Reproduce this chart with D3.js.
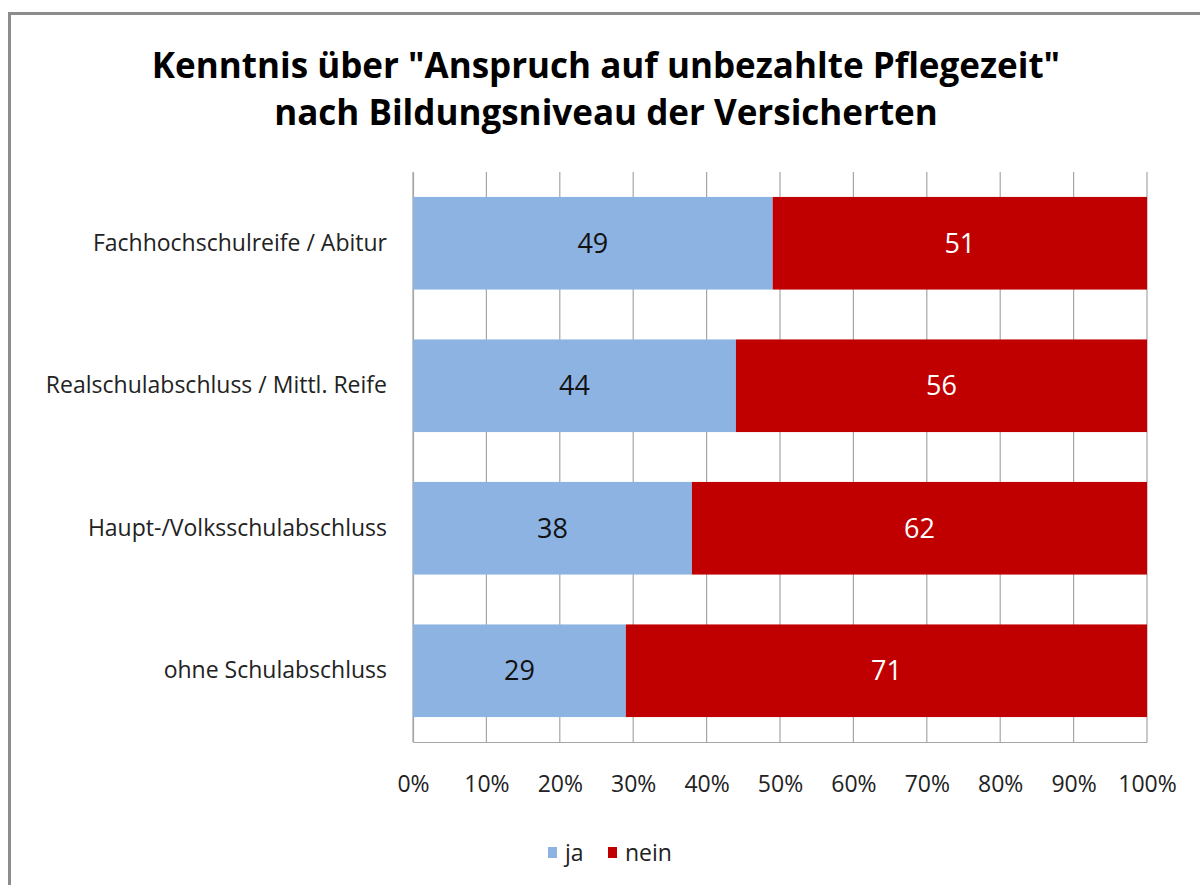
<!DOCTYPE html>
<html>
<head>
<meta charset="utf-8">
<script src="https://cdn.jsdelivr.net/npm/d3@7"></script>
<style>
  body { margin: 0; background: #fff; }
  text { font-family: "Open Sans", "DejaVu Sans", sans-serif; }
</style>
</head>
<body>
<div id="chart"></div>
<script>
// data
var categories = ["Fachhochschulreife / Abitur", "Realschulabschluss / Mittl. Reife", "Haupt-/Volksschulabschluss", "ohne Schulabschluss"];
var ja = [49, 44, 38, 29];
var nein = [51, 56, 62, 71];
var seriesNames = ["ja", "nein"];
var seriesColors = ["#8db3e2", "#c00000"];
var tickValues = [0, 10, 20, 30, 40, 50, 60, 70, 80, 90, 100];

var W = 1200, H = 885;
var margin = {top: 172, right: 53, bottom: 143, left: 413},
    width = W - margin.left - margin.right,
    height = H - margin.top - margin.bottom;

var svg = d3.select("#chart").append("svg")
    .attr("width", W).attr("height", H);

// outer frame
svg.append("rect")
    .attr("x", 9.5).attr("y", 13.5)
    .attr("width", W + 10).attr("height", H + 10)
    .attr("fill", "none").attr("stroke", "#8c8c8c").attr("stroke-width", 3);

// title
var title = svg.append("text")
    .attr("text-anchor", "middle")
    .style("font-weight", "bold").style("font-size", "35px").attr("fill", "#000");
title.append("tspan").attr("x", 606).attr("y", 78).text('Kenntnis über "Anspruch auf unbezahlte Pflegezeit"');
title.append("tspan").attr("x", 606).attr("y", 125).text("nach Bildungsniveau der Versicherten");

var g = svg.append("g").attr("transform", "translate(" + margin.left + "," + margin.top + ")");

var x = d3.scaleLinear().domain([0, 100]).range([0, width]);
var y = d3.scaleBand().domain(categories).range([0, height]).paddingInner(0.35).paddingOuter(0.175);

// vertical gridlines
g.selectAll(".grid").data(tickValues).enter().append("line")
    .attr("x1", function(d) { return x(d); }).attr("x2", function(d) { return x(d); })
    .attr("y1", 0).attr("y2", height)
    .attr("stroke", "#a6a6a6").attr("stroke-width", 1.2);

// x axis
var xAxis = g.append("g").attr("transform", "translate(0," + height + ")")
    .call(d3.axisBottom(x).tickValues(tickValues).tickSize(0).tickPadding(34).tickFormat(function(d) { return d + "%"; }));
xAxis.select(".domain").attr("stroke", "#a6a6a6").attr("stroke-width", 1.2);
xAxis.selectAll(".tick text").style("font-size", "23px").attr("fill", "#222")
    .style("font-family", "'Open Sans', sans-serif");

// y axis
var yAxis = g.append("g")
    .call(d3.axisLeft(y).tickSize(0).tickPadding(26));
yAxis.select(".domain").attr("stroke", "#a6a6a6").attr("stroke-width", 1.2);
yAxis.selectAll(".tick text").style("font-size", "23px").attr("fill", "#222")
    .style("font-family", "'Open Sans', sans-serif");

// stacked bars
var rows = categories.map(function(c, i) { return {cat: c, ja: ja[i], nein: nein[i]}; });
var stacked = d3.stack().keys(seriesNames)(rows);

var layers = g.selectAll(".layer").data(stacked).enter().append("g")
    .attr("fill", function(d, i) { return seriesColors[i]; });

layers.selectAll("rect").data(function(d) { return d; }).enter().append("rect")
    .attr("x", function(d) { return x(d[0]); })
    .attr("y", function(d) { return y(d.data.cat); })
    .attr("width", function(d) { return x(d[1]) - x(d[0]); })
    .attr("height", y.bandwidth());

layers.each(function(s, si) {
  d3.select(this).selectAll("text.val").data(s).enter().append("text")
      .attr("class", "val")
      .attr("x", function(d) { return (x(d[0]) + x(d[1])) / 2; })
      .attr("y", function(d) { return y(d.data.cat) + y.bandwidth() / 2; })
      .attr("dy", "0.36em")
      .attr("text-anchor", "middle")
      .style("font-size", "27px")
      .attr("fill", si === 0 ? "#111" : "#fff")
      .text(function(d) { return d[1] - d[0]; });
});

// legend
var legend = svg.append("g").attr("transform", "translate(548,843)");
seriesNames.forEach(function(name, i) {
  var lx = i === 0 ? 0 : 60;
  legend.append("rect").attr("x", lx).attr("y", 4).attr("width", 9).attr("height", 11)
      .attr("fill", seriesColors[i]);
  legend.append("text").attr("x", lx + 17).attr("y", 18)
      .style("font-size", "23px").attr("fill", "#222").text(name);
});
</script>
</body>
</html>
